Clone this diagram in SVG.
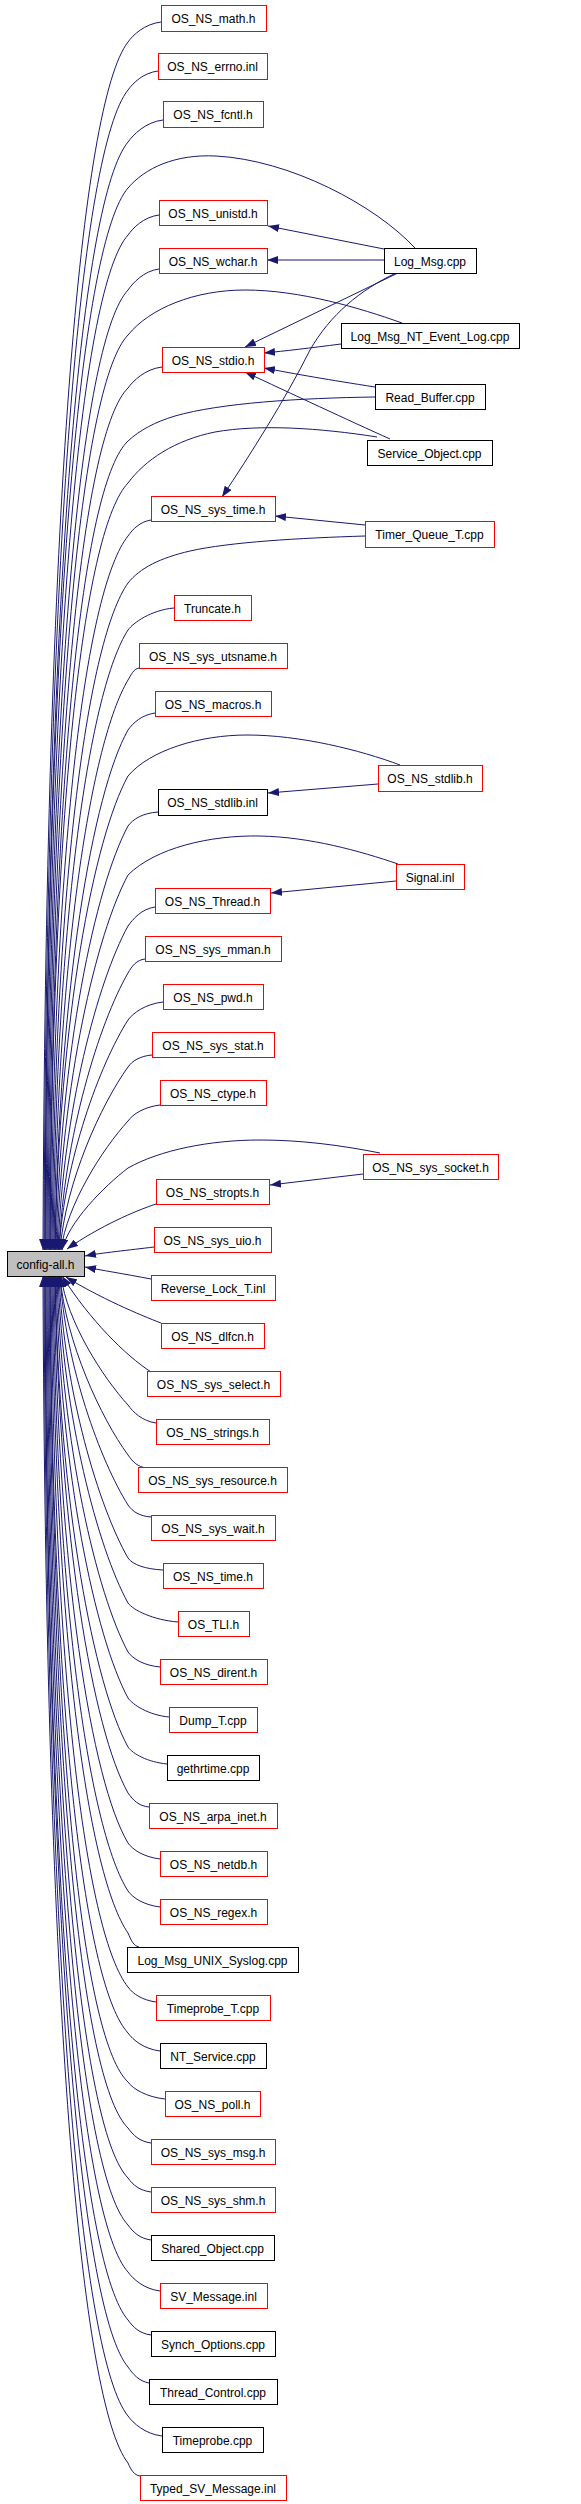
<svg xmlns="http://www.w3.org/2000/svg" width="581" height="2504" viewBox="0 0 581 2504">
<style>
.node rect{fill:#ffffff;stroke-width:1}
.r rect{stroke:#ff0000}
.b rect{stroke:#000000}
.g rect{stroke:#000000;fill:#bfbfbf}
.node text{font-family:"Liberation Sans",Arial,sans-serif;font-size:12px;fill:#000000;text-anchor:middle}
#edges path{fill:none;stroke:#191970;stroke-width:1;marker-end:url(#ah)}
</style>
<defs>
<marker id="ah" viewBox="0 0 11 8" refX="11" refY="4" markerWidth="11" markerHeight="8" markerUnits="userSpaceOnUse" orient="auto">
<path d="M0,0 L11,4 L0,8 z" fill="#191970"/>
</marker>
</defs>
<rect x="0" y="0" width="581" height="2504" fill="#ffffff"/>
<g id="edges">
<path d="M161,22 C144.5,24 133,35 128,42 C81.3,102.4 45.6,501 43,1250"/>
<path d="M158,71 C143,73 133,83 128,90 C81.8,148 46.5,530.8 44,1250"/>
<path d="M163,120 C145.5,122 133,135 128,142 C82.4,197.4 47.5,563 45,1250"/>
<path d="M415,248 C375,205 290,160 216,156 C175,154 145,168 128,188 C82.4,241.1 47.5,591.6 45,1250"/>
<path d="M159,215 C143.5,217 133,228 128,235 C82.9,285.8 48.5,620.7 46,1250"/>
<path d="M159,269 C143.5,271 133,283 128,290 C83.5,338 49.4,654.8 47,1250"/>
<path d="M402,323 C360,308 300,290 245,290 C195,290 150,308 128,335 C84,380.8 50.4,682.7 48,1250"/>
<path d="M162,367 C145,369 133,381 128,388 C84.6,431.1 51.4,715.6 49,1250"/>
<path d="M375,397 C300,398 220,403 175,416 C155,422 140,430 128,441 C85.1,481.5 52.3,748.4 50,1250"/>
<path d="M377,437 C320,428 260,424 215,432 C175,440 145,460 128,483 C85.7,527.6 52.6,784.5 50,1250"/>
<path d="M151,520 C139.5,522 133,529 128,536 C87.3,587 53.9,831.9 51,1250"/>
<path d="M365,536 C300,538 230,542 190,551 C160,558 140,568 128,583 C88.7,638.5 55.2,871.9 52,1250"/>
<path d="M174,608 C151,610 133,623 128,630 C90.1,688.9 56.4,910.2 53,1250"/>
<path d="M139,668 C133.5,669 131,675 128,680 C91.6,741.3 57.7,949 54,1250"/>
<path d="M155,713 C141.5,715 133,723 128,730 C93,792.4 59,985.8 55,1250"/>
<path d="M400,765 C360,750 300,735 247,735 C200,735 150,750 128,776 C93.8,838.3 59.3,1017.9 55,1250"/>
<path d="M158,812 C143,813 133,819 128,826 C95.2,887.1 60.5,1050.9 56,1250"/>
<path d="M398,864 C360,851 310,837 260,836 C210,835 155,848 128,875 C96.5,933.6 61.8,1081.3 57,1250"/>
<path d="M155,907 C141.5,909 133,919 128,926 C97.8,980.8 63,1110.8 58,1250"/>
<path d="M145,959 C136.5,960 132,966 128,973 C99.1,1023.1 64.2,1136.2 59,1250"/>
<path d="M163,1002 C145.5,1004 133,1013 128,1020 C99.9,1064.3 64.5,1159.8 59,1250"/>
<path d="M152,1055 C140,1056 132,1061 128,1067 C101.1,1104.4 65.7,1181.7 60,1250"/>
<path d="M160,1105 C144,1107 133,1114 128,1121 C102.4,1149.1 66.9,1204.7 61,1250"/>
<path d="M380,1153 C340,1145 300,1140 260,1140 C210,1140 160,1150 128,1168 C103.5,1186.8 68.1,1222.7 62,1250"/>
<path d="M156,1204 C135,1211 100,1226 67,1249"/>
<path d="M154,1247 C130,1250 100,1253 85,1256"/>
<path d="M151,1279 C125,1274 100,1270 85,1267"/>
<path d="M161,1323 C140,1315 100,1298 66,1277"/>
<path d="M151,1372 C125,1355 90,1320 62,1276"/>
<path d="M156,1423 C142,1421 133,1412 128,1405 C102.4,1376.9 66.9,1321.3 61,1276"/>
<path d="M147,1468 C137.5,1467 133,1462 128,1455 C101.2,1418.3 65.7,1342.5 60,1276"/>
<path d="M151,1517 C139.5,1516 133,1512 128,1505 C100.3,1460.8 65.4,1365.7 60,1276"/>
<path d="M163,1570 C145.5,1569 133,1565 128,1558 C99,1507.4 64.2,1392.4 59,1276"/>
<path d="M178,1622 C153,1620 133,1610 128,1603 C97.8,1548 63,1416.9 58,1276"/>
<path d="M160,1667 C144,1665.5 133,1659 128,1652 C96.5,1593.3 61.8,1445.4 57,1276"/>
<path d="M169,1717 C148.5,1715 133,1705 128,1698 C95.2,1637 60.5,1473.8 56,1276"/>
<path d="M167,1764 C147.5,1762 133,1754 128,1747 C93.9,1684.7 59.3,1506 55,1276"/>
<path d="M149,1807 C138.5,1806 133,1800 128,1793 C93,1730.5 59,1538 55,1276"/>
<path d="M160,1859 C144,1857 133,1850 128,1843 C91.6,1781.7 57.7,1574.8 54,1276"/>
<path d="M160,1907 C144,1905 133,1898 128,1891 C90.2,1831.8 56.5,1611.9 53,1276"/>
<path d="M139,1947 C133.5,1946 131,1940 128,1933 C88.9,1876.6 55.2,1645.7 52,1276"/>
<path d="M156,2002 C142,2000 133,1994 128,1987 C87.4,1935.7 53.9,1691.6 51,1276"/>
<path d="M160,2051 C144,2049 133,2040 128,2033 C85.9,1987 52.6,1732.2 50,1276"/>
<path d="M165,2099 C146.5,2097 133,2089 128,2082 C85.1,2041.7 52.3,1775.7 50,1276"/>
<path d="M151,2143 C139.5,2141.5 133,2135 128,2128 C84.5,2085.4 51.4,1804.2 49,1276"/>
<path d="M151,2192 C139.5,2190.5 133,2185 128,2178 C84,2132.9 50.4,1835.2 48,1276"/>
<path d="M151,2240 C139.5,2238.5 133,2232 128,2225 C83.5,2177.5 49.4,1864.4 47,1276"/>
<path d="M160,2291 C144,2289 133,2279 128,2272 C82.9,2222.2 48.5,1893.5 46,1276"/>
<path d="M151,2335 C139.5,2333.5 133,2327 128,2320 C82.4,2267.8 47.5,1923.3 45,1276"/>
<path d="M149,2383 C138.5,2381 133,2374 128,2367 C82.4,2312.4 47.5,1952.4 45,1276"/>
<path d="M162,2436 C145,2434 133,2423 128,2416 C81.8,2359 46.5,1982.8 44,1276"/>
<path d="M140,2476 C134,2475 131,2470 128,2463 C81.3,2403.6 45.6,2011.9 43,1276"/>
<path d="M384,249 L268,226"/>
<path d="M384,260 L267,260"/>
<path d="M398,273 L245,347"/>
<path d="M396,273 C360,290 330,315 310,350 C285,400 250,455 222,497"/>
<path d="M341,344 C310,348 285,351 264,353"/>
<path d="M375,387 C330,380 295,374 264,368"/>
<path d="M390,439 C350,421 290,393 245,372"/>
<path d="M365,525 L275,516"/>
<path d="M378,784 L268,793"/>
<path d="M396,881 L271,893"/>
<path d="M363,1174 L270,1185"/>
</g>
<g id="n1" class="node r"><rect x="161.5" y="5.5" width="105" height="26"/><text x="213.5" y="23">OS_NS_math.h</text></g>
<g id="n2" class="node r"><rect x="158.5" y="53.5" width="109" height="26"/><text x="212.5" y="71">OS_NS_errno.inl</text></g>
<g id="n3" class="node r"><rect x="163.5" y="101.5" width="100" height="26"/><text x="213" y="119">OS_NS_fcntl.h</text></g>
<g id="n4" class="node r"><rect x="159.5" y="200.5" width="108" height="25"/><text x="213" y="218">OS_NS_unistd.h</text></g>
<g id="n5" class="node r"><rect x="159.5" y="248.5" width="108" height="25"/><text x="213" y="265.5">OS_NS_wchar.h</text></g>
<g id="n6" class="node b"><rect x="384.5" y="248.5" width="92" height="25"/><text x="430" y="265.5">Log_Msg.cpp</text></g>
<g id="n7" class="node b"><rect x="341.5" y="323.5" width="178" height="25"/><text x="430" y="340.5">Log_Msg_NT_Event_Log.cpp</text></g>
<g id="n8" class="node r"><rect x="162.5" y="347.5" width="102" height="25"/><text x="213" y="364.5">OS_NS_stdio.h</text></g>
<g id="n9" class="node b"><rect x="375.5" y="384.5" width="110" height="25"/><text x="430" y="401.5">Read_Buffer.cpp</text></g>
<g id="n10" class="node b"><rect x="367.5" y="440.5" width="125" height="25"/><text x="429.5" y="457.5">Service_Object.cpp</text></g>
<g id="n11" class="node r"><rect x="151.5" y="496.5" width="124" height="25"/><text x="213" y="513.5">OS_NS_sys_time.h</text></g>
<g id="n12" class="node r"><rect x="365.5" y="521.5" width="129" height="26"/><text x="429.5" y="539">Timer_Queue_T.cpp</text></g>
<g id="n13" class="node r"><rect x="174.5" y="595.5" width="77" height="25"/><text x="212.5" y="612.5">Truncate.h</text></g>
<g id="n14" class="node r"><rect x="139.5" y="643.5" width="148" height="25"/><text x="213" y="660.5">OS_NS_sys_utsname.h</text></g>
<g id="n15" class="node r"><rect x="155.5" y="691.5" width="116" height="25"/><text x="213" y="708.5">OS_NS_macros.h</text></g>
<g id="n16" class="node r"><rect x="378.5" y="765.5" width="104" height="26"/><text x="430" y="783">OS_NS_stdlib.h</text></g>
<g id="n17" class="node b"><rect x="158.5" y="789.5" width="109" height="26"/><text x="212.5" y="807">OS_NS_stdlib.inl</text></g>
<g id="n18" class="node r"><rect x="396.5" y="864.5" width="68" height="25"/><text x="430" y="881.5">Signal.inl</text></g>
<g id="n19" class="node r"><rect x="155.5" y="888.5" width="115" height="25"/><text x="212.5" y="905.5">OS_NS_Thread.h</text></g>
<g id="n20" class="node r"><rect x="145.5" y="936.5" width="136" height="25"/><text x="213" y="953.5">OS_NS_sys_mman.h</text></g>
<g id="n21" class="node r"><rect x="163.5" y="984.5" width="100" height="25"/><text x="213" y="1001.5">OS_NS_pwd.h</text></g>
<g id="n22" class="node r"><rect x="152.5" y="1032.5" width="122" height="25"/><text x="213" y="1049.5">OS_NS_sys_stat.h</text></g>
<g id="n23" class="node r"><rect x="160.5" y="1080.5" width="106" height="25"/><text x="213" y="1097.5">OS_NS_ctype.h</text></g>
<g id="n24" class="node r"><rect x="363.5" y="1154.5" width="135" height="25"/><text x="430.5" y="1171.5">OS_NS_sys_socket.h</text></g>
<g id="n25" class="node r"><rect x="156.5" y="1179.5" width="113" height="25"/><text x="212.5" y="1196.5">OS_NS_stropts.h</text></g>
<g id="n26" class="node r"><rect x="154.5" y="1227.5" width="117" height="25"/><text x="212.5" y="1244.5">OS_NS_sys_uio.h</text></g>
<g id="n27" class="node g"><rect x="7.5" y="1251.5" width="77" height="25"/><text x="45.5" y="1268.5">config-all.h</text></g>
<g id="n28" class="node r"><rect x="151.5" y="1275.5" width="124" height="25"/><text x="213" y="1292.5">Reverse_Lock_T.inl</text></g>
<g id="n29" class="node r"><rect x="161.5" y="1323.5" width="103" height="25"/><text x="212.5" y="1340.5">OS_NS_dlfcn.h</text></g>
<g id="n30" class="node r"><rect x="147.5" y="1371.5" width="133" height="25"/><text x="213.5" y="1388.5">OS_NS_sys_select.h</text></g>
<g id="n31" class="node r"><rect x="156.5" y="1419.5" width="113" height="25"/><text x="212.5" y="1436.5">OS_NS_strings.h</text></g>
<g id="n32" class="node r"><rect x="138.5" y="1467.5" width="149" height="25"/><text x="212.5" y="1484.5">OS_NS_sys_resource.h</text></g>
<g id="n33" class="node r"><rect x="151.5" y="1515.5" width="124" height="25"/><text x="213" y="1532.5">OS_NS_sys_wait.h</text></g>
<g id="n34" class="node r"><rect x="163.5" y="1563.5" width="100" height="25"/><text x="213" y="1580.5">OS_NS_time.h</text></g>
<g id="n35" class="node r"><rect x="178.5" y="1611.5" width="71" height="25"/><text x="213.5" y="1628.5">OS_TLI.h</text></g>
<g id="n36" class="node r"><rect x="160.5" y="1659.5" width="107" height="25"/><text x="213.5" y="1676.5">OS_NS_dirent.h</text></g>
<g id="n37" class="node r"><rect x="169.5" y="1707.5" width="88" height="25"/><text x="213" y="1724.5">Dump_T.cpp</text></g>
<g id="n38" class="node b"><rect x="167.5" y="1755.5" width="92" height="25"/><text x="213" y="1772.5">gethrtime.cpp</text></g>
<g id="n39" class="node r"><rect x="149.5" y="1803.5" width="128" height="25"/><text x="213" y="1820.5">OS_NS_arpa_inet.h</text></g>
<g id="n40" class="node r"><rect x="160.5" y="1851.5" width="107" height="25"/><text x="213.5" y="1868.5">OS_NS_netdb.h</text></g>
<g id="n41" class="node r"><rect x="160.5" y="1899.5" width="107" height="25"/><text x="213.5" y="1916.5">OS_NS_regex.h</text></g>
<g id="n42" class="node b"><rect x="127.5" y="1947.5" width="171" height="25"/><text x="212.5" y="1964.5">Log_Msg_UNIX_Syslog.cpp</text></g>
<g id="n43" class="node r"><rect x="156.5" y="1995.5" width="114" height="25"/><text x="213" y="2012.5">Timeprobe_T.cpp</text></g>
<g id="n44" class="node b"><rect x="160.5" y="2043.5" width="106" height="25"/><text x="213" y="2060.5">NT_Service.cpp</text></g>
<g id="n45" class="node r"><rect x="165.5" y="2091.5" width="95" height="25"/><text x="212.5" y="2108.5">OS_NS_poll.h</text></g>
<g id="n46" class="node r"><rect x="151.5" y="2139.5" width="124" height="25"/><text x="213" y="2156.5">OS_NS_sys_msg.h</text></g>
<g id="n47" class="node r"><rect x="151.5" y="2187.5" width="124" height="25"/><text x="213" y="2204.5">OS_NS_sys_shm.h</text></g>
<g id="n48" class="node b"><rect x="151.5" y="2235.5" width="123" height="25"/><text x="212.5" y="2252.5">Shared_Object.cpp</text></g>
<g id="n49" class="node r"><rect x="160.5" y="2283.5" width="107" height="25"/><text x="213.5" y="2300.5">SV_Message.inl</text></g>
<g id="n50" class="node b"><rect x="151.5" y="2331.5" width="124" height="25"/><text x="213" y="2348.5">Synch_Options.cpp</text></g>
<g id="n51" class="node b"><rect x="149.5" y="2379.5" width="128" height="25"/><text x="213" y="2396.5">Thread_Control.cpp</text></g>
<g id="n52" class="node b"><rect x="162.5" y="2427.5" width="101" height="25"/><text x="212.5" y="2444.5">Timeprobe.cpp</text></g>
<g id="n53" class="node r"><rect x="140.5" y="2475.5" width="146" height="25"/><text x="213" y="2492.5">Typed_SV_Message.inl</text></g>
</svg>
